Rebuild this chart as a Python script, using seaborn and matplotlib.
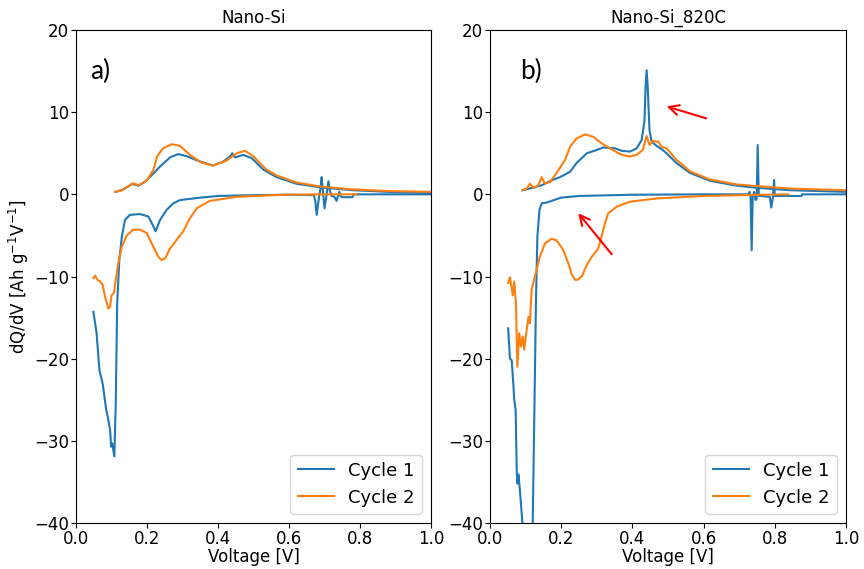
import matplotlib
matplotlib.use("Agg")
import matplotlib.pyplot as plt
from matplotlib.lines import Line2D
import seaborn as sns
import pandas as pd

# ---------------- data ----------------
panel_titles = ["Nano-Si", "Nano-Si_820C"]
panel_tags = ["a)", "b)"]
cycle_labels = ["Cycle 1", "Cycle 2"]

# Panel a) Nano-Si
a_c1_dis_V = [1.0, 0.782, 0.779, 0.75, 0.745, 0.742, 0.738, 0.734, 0.728, 0.72, 0.715, 0.711, 0.706, 0.70,
              0.697, 0.694, 0.692, 0.688, 0.684, 0.678, 0.674, 0.67, 0.6, 0.5, 0.4, 0.35, 0.293, 0.274, 0.255,
              0.237, 0.224, 0.218, 0.204, 0.18, 0.152, 0.138, 0.129, 0.122, 0.116, 0.112, 0.108, 0.102, 0.099,
              0.096, 0.091, 0.085, 0.075, 0.066, 0.058, 0.049]
a_c1_dis_Q = [0.0, 0.0, -0.35, -0.35, -0.2, 0.3, -0.2, -0.8, -0.3, -0.2, 0.5, 1.6, 0.0, -1.7,
              -0.3, 1.0, 2.1, 0.5, -0.5, -2.5, -0.8, -0.1, -0.05, -0.1, -0.2, -0.4, -0.7, -1.1, -1.9,
              -3.1, -4.5, -3.9, -2.7, -2.4, -2.5, -3.1, -5.2, -8.0, -13.3, -25.4, -31.9, -30.3, -30.7,
              -28.7, -27.4, -26.2, -23.0, -21.4, -16.9, -14.3]

a_c1_ch_V = [0.11, 0.129, 0.145, 0.157, 0.165, 0.176, 0.19, 0.208, 0.237, 0.265, 0.288, 0.311, 0.349, 0.386,
             0.415, 0.434, 0.44, 0.448, 0.471, 0.495, 0.528, 0.565, 0.62, 0.687, 0.78, 0.88, 1.0]
a_c1_ch_Q = [0.3, 0.5, 0.9, 1.25, 1.2, 1.05, 1.4, 2.1, 3.4, 4.5, 4.9, 4.65, 4.0, 3.5,
             4.0, 4.6, 5.0, 4.5, 4.8, 4.4, 3.0, 2.1, 1.3, 0.85, 0.5, 0.3, 0.15]

a_c2_dis_V = [0.79, 0.70, 0.583, 0.453, 0.377, 0.34, 0.321, 0.302, 0.293, 0.279, 0.265, 0.251, 0.241, 0.232,
              0.218, 0.199, 0.18, 0.161, 0.143, 0.129, 0.119, 0.112, 0.107, 0.1, 0.096, 0.091, 0.082, 0.075,
              0.068, 0.06, 0.054, 0.049]
a_c2_dis_Q = [0.0, 0.0, -0.05, -0.3, -0.8, -1.7, -2.9, -4.5, -5.0, -5.8, -6.6, -7.8, -8.0, -7.6,
              -6.4, -4.7, -4.3, -4.3, -5.0, -6.4, -8.4, -10.4, -12.0, -12.3, -13.7, -13.9, -12.5, -11.0,
              -10.6, -10.4, -9.9, -10.2]

a_c2_ch_V = [0.11, 0.129, 0.152, 0.161, 0.176, 0.2, 0.218, 0.229, 0.245, 0.27, 0.293, 0.321, 0.354, 0.386,
             0.424, 0.453, 0.476, 0.499, 0.537, 0.565, 0.62, 0.687, 0.78, 0.88, 1.0]
a_c2_ch_Q = [0.3, 0.5, 1.1, 1.35, 1.1, 1.7, 3.0, 4.65, 5.6, 6.1, 5.9, 4.8, 3.85, 3.5,
             4.1, 5.0, 5.3, 4.65, 3.0, 2.3, 1.45, 0.95, 0.6, 0.4, 0.3]

# Panel b) Nano-Si_820C
b_c1_dis_V = [1.0, 0.877, 0.875, 0.80, 0.798, 0.795, 0.79, 0.786, 0.76, 0.755, 0.752, 0.749, 0.746, 0.742,
              0.738, 0.735, 0.732, 0.729, 0.725, 0.6, 0.4, 0.25, 0.2, 0.159, 0.145, 0.139, 0.133, 0.129,
              0.125, 0.12, 0.108, 0.098, 0.091, 0.084, 0.08, 0.077, 0.075, 0.072, 0.068, 0.066, 0.061,
              0.056, 0.051]
b_c1_dis_Q = [0.0, 0.0, -0.2, -0.2, 1.75, -0.3, -1.6, -0.3, -0.2, -0.2, 6.0, -0.5, -0.7, 0.3,
              -0.3, -6.8, -0.3, 0.3, 0.0, 0.0, -0.05, -0.2, -0.4, -1.0, -1.1, -1.9, -5.2, -13.3,
              -25.4, -40.0, -60.0, -52.0, -40.0, -36.0, -34.1, -35.2, -33.5, -26.2, -25.0, -23.4, -20.2,
              -20.0, -16.3]

b_c1_ch_V = [0.091, 0.12, 0.145, 0.159, 0.173, 0.197, 0.225, 0.243, 0.272, 0.3, 0.318, 0.351, 0.37, 0.393,
             0.412, 0.426, 0.434, 0.437, 0.44, 0.443, 0.448, 0.454, 0.468, 0.482, 0.496, 0.524, 0.562,
             0.618, 0.693, 0.749, 0.843, 1.0]
b_c1_ch_Q = [0.5, 0.8, 1.1, 1.4, 1.7, 2.1, 2.75, 3.8, 5.0, 5.4, 5.7, 5.6, 5.3, 5.2,
             5.6, 6.6, 9.0, 13.1, 15.1, 13.1, 7.8, 6.4, 5.9, 5.5, 5.0, 3.8, 2.6,
             1.65, 1.05, 0.8, 0.5, 0.3]

b_c2_dis_V = [0.838, 0.7, 0.6, 0.468, 0.393, 0.356, 0.332, 0.323, 0.313, 0.304, 0.286, 0.272, 0.258, 0.245,
              0.239, 0.23, 0.22, 0.206, 0.187, 0.173, 0.154, 0.14, 0.126, 0.117, 0.112, 0.108, 0.103, 0.096,
              0.092, 0.087, 0.082, 0.077, 0.073, 0.068, 0.064, 0.056, 0.051]
b_c2_dis_Q = [0.0, -0.1, -0.2, -0.5, -0.9, -1.5, -2.3, -3.5, -5.2, -6.6, -7.6, -8.6, -10.0, -10.4,
              -10.4, -9.8, -8.4, -6.8, -5.6, -5.4, -6.0, -7.6, -10.0, -11.6, -15.7, -14.9, -16.5, -18.9,
              -17.3, -18.5, -16.9, -21.0, -13.3, -10.6, -12.3, -10.1, -10.8]

b_c2_ch_V = [0.091, 0.103, 0.112, 0.122, 0.136, 0.145, 0.154, 0.169, 0.187, 0.211, 0.225, 0.243, 0.267, 0.29,
             0.314, 0.337, 0.365, 0.389, 0.412, 0.429, 0.44, 0.448, 0.457, 0.473, 0.482, 0.496, 0.524,
             0.562, 0.618, 0.693, 0.843, 1.0]
b_c2_ch_Q = [0.5, 0.7, 1.3, 0.8, 1.1, 2.1, 1.3, 1.5, 2.6, 4.2, 5.8, 6.8, 7.3, 7.0,
             6.2, 5.6, 4.9, 4.6, 4.8, 5.4, 7.1, 6.0, 6.5, 6.4, 5.8, 5.6, 4.2,
             2.8, 1.8, 1.2, 0.7, 0.5]

panels = [
    [[(a_c1_dis_V, a_c1_dis_Q), (a_c1_ch_V, a_c1_ch_Q)],
     [(a_c2_dis_V, a_c2_dis_Q), (a_c2_ch_V, a_c2_ch_Q)]],
    [[(b_c1_dis_V, b_c1_dis_Q), (b_c1_ch_V, b_c1_ch_Q)],
     [(b_c2_dis_V, b_c2_dis_Q), (b_c2_ch_V, b_c2_ch_Q)]],
]

# arrows in panel b (tail -> head, data coords)
arrow_tails = [(0.607, 9.25), (0.342, -7.3)]
arrow_heads = [(0.496, 10.7), (0.248, -2.3)]

colors = ["#1f77b4", "#ff7f0e"]

# ---------------- figure ----------------
plt.rcParams["font.family"] = ["DejaVu Sans"]
fig = plt.figure(figsize=(8.64, 5.69), dpi=100)
ax_pos = [[76 / 864, 1 - 523 / 569, 355 / 864, 493 / 569],
          [490 / 864, 1 - 523 / 569, 356 / 864, 493 / 569]]

for p, pos in enumerate(ax_pos):
    ax = fig.add_axes(pos)
    for c, branches in enumerate(panels[p]):
        for V, Q in branches:
            df = pd.DataFrame({"V": V, "Q": Q})
            sns.lineplot(data=df, x="V", y="Q", sort=False, estimator=None,
                         color=colors[c], lw=1.5, ax=ax)
    ax.set_xlim(0, 1.0)
    ax.set_ylim(-40, 20)
    ax.set_xticks([0.0, 0.2, 0.4, 0.6, 0.8, 1.0])
    ax.set_yticks([-40, -30, -20, -10, 0, 10, 20])
    ax.tick_params(labelsize=12, pad=1.5)
    ax.set_xlabel("Voltage [V]", fontsize=12, labelpad=0)
    ax.set_ylabel("dQ/dV [Ah g$^{-1}$V$^{-1}$]" if p == 0 else "", fontsize=12, labelpad=2)
    ax.set_title(panel_titles[p], fontsize=12, pad=5)
    ax.text(0.04 if p == 0 else 0.085, 15.0, panel_tags[p], fontsize=19,
            family=["Lato", "DejaVu Sans"], va="center", ha="left")
    handles = [Line2D([], [], color=col, lw=1.5) for col in colors]
    ax.legend(handles, cycle_labels, loc="lower right", fontsize=13)
    if p == 1:
        for t, h in zip(arrow_tails, arrow_heads):
            ax.annotate("", xy=h, xytext=t,
                        arrowprops=dict(arrowstyle="->", color="red", lw=1.5,
                                        mutation_scale=18, shrinkA=0, shrinkB=0))

fig.savefig("out.png", dpi=100)
